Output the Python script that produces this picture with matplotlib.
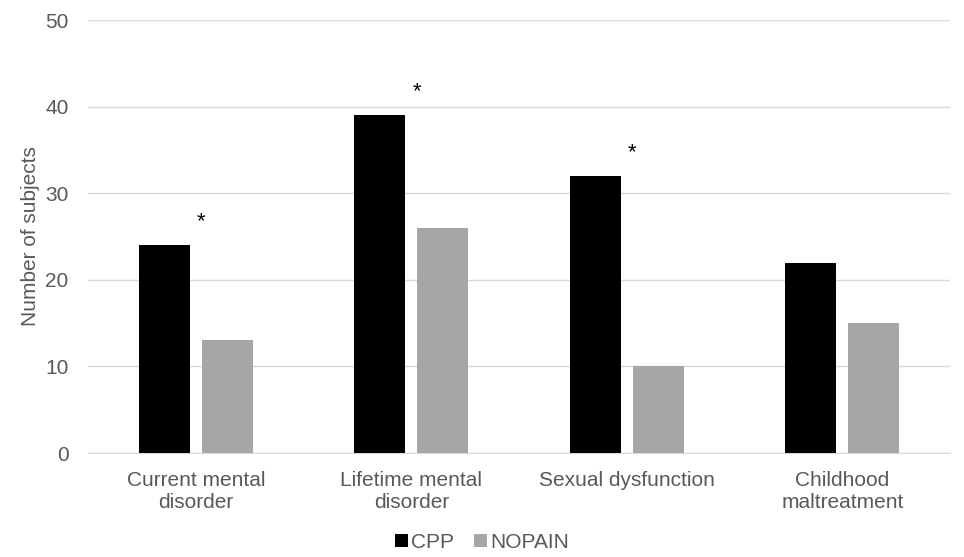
import matplotlib.pyplot as plt
import numpy as np

categories = ["Current mental\ndisorder", "Lifetime mental\ndisorder",
              "Sexual dysfunction", "Childhood\nmaltreatment"]
cpp = [24, 39, 32, 22]
nopain = [13, 26, 10, 15]
significant = [True, True, True, False]
y_ticks = [0, 10, 20, 30, 40, 50]

txt = "#595959"
plt.rcParams['font.family'] = ['Liberation Sans', 'DejaVu Sans']

fig = plt.figure(figsize=(9.64, 5.57), dpi=100)
ax = fig.add_axes([0.0913, 0.1867, 0.8942, 0.7773])

x = np.arange(len(categories))
w = 0.237
off = 0.146
ax.bar(x - off, cpp, w, color="black", label="CPP", zorder=3)
ax.bar(x + off, nopain, w, color="#a6a6a6", label="NOPAIN", zorder=3)

# stars for significant differences
for i, s in enumerate(significant):
    if s:
        ax.text(x[i] + 0.025, cpp[i] + 1.5, "*", ha="center", va="bottom",
                fontsize=16, color="black")

ax.set_xlim(-0.5, len(categories) - 0.5)
ax.set_ylim(0, 50)
ax.set_yticks(y_ticks)
ax.set_xticks(x)
ax.set_xticklabels(categories, fontsize=15, color=txt, linespacing=1.2)
ax.tick_params(axis="y", labelsize=15, labelcolor=txt, length=0, pad=14)
ax.tick_params(axis="x", length=0, pad=13)
ax.grid(axis="y", color="#d9d9d9", linewidth=1, zorder=0)
for sp in ["top", "right", "left"]:
    ax.spines[sp].set_visible(False)
ax.spines["bottom"].set_color("#d9d9d9")
ax.set_ylabel("Number of subjects", fontsize=15, color=txt, labelpad=4)

fig.legend(loc="lower center", bbox_to_anchor=(0.5, -0.024), ncol=2, frameon=False,
           fontsize=15, labelcolor=txt, handlelength=0.6, handleheight=0.6,
           handletextpad=0.15, columnspacing=1.0)

fig.savefig("out.png", dpi=100)
